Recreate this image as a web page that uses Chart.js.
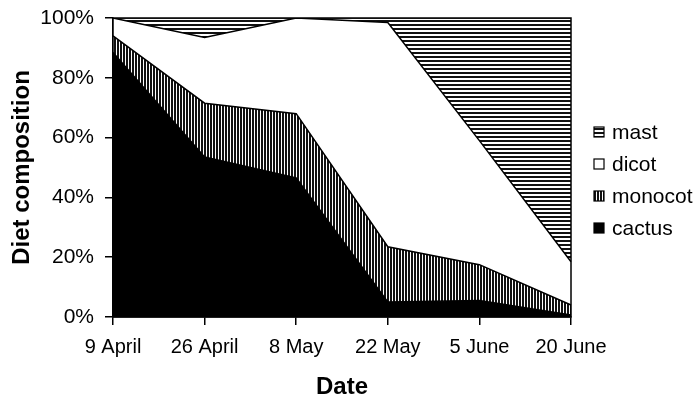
<!DOCTYPE html>
<html>
<head>
<meta charset="utf-8">
<script src="https://cdn.jsdelivr.net/npm/chart.js@4.4.0/dist/chart.umd.min.js"></script>
<style>
  body { margin: 0; background: #fff; }
</style>
</head>
<body>
<canvas id="dietChart" width="696" height="402"></canvas>
<script>
// values, percent of diet
const dates = ['9 April', '26 April', '8 May', '22 May', '5 June', '20 June'];
const cactus = [88.5, 53.5, 46.5, 5, 5.5, 0.7];
const monocot = [5.5, 18, 21.5, 18.5, 12, 3.3];
const dicot = [6, 22, 32, 75, 41.5, 14.5];
const mast = [0, 6.5, 0, 1.5, 41, 81.5];
const yTicks = [0, 20, 40, 60, 80, 100];

const FONT = "'Liberation Sans', Arial, sans-serif";

// striped fills like the old excel patterns
function stripes(vertical, period, thick) {
    const c = document.createElement('canvas');
    c.width = period * 2; c.height = period * 2;
    const ctx = c.getContext('2d');
    ctx.fillStyle = '#fff';
    ctx.fillRect(0, 0, c.width, c.height);
    ctx.fillStyle = '#111';
    for (let i = 0; i < c.width; i += period) {
        if (vertical) ctx.fillRect(i, 0, thick, c.height);
        else ctx.fillRect(0, i, c.width, thick);
    }
    return ctx.createPattern(c, 'repeat');
}

// box round the plot
const frame = {
    id: 'frame',
    afterDatasetsDraw(chart) {
        const a = chart.chartArea, ctx = chart.ctx;
        ctx.save();
        ctx.strokeStyle = '#000';
        ctx.lineWidth = 1.5;
        ctx.strokeRect(a.left, a.top, a.right - a.left, a.bottom - a.top);
        ctx.restore();
    }
};

// legend on the right, top item = last dataset
const sideLegend = {
    id: 'sideLegend',
    afterDraw(chart) {
        const ctx = chart.ctx;
        const sets = chart.data.datasets.slice().reverse();
        ctx.save();
        ctx.font = '21px ' + FONT;
        ctx.textBaseline = 'middle';
        sets.forEach(function (ds, i) {
            const y = 132 + i * 32;
            ctx.fillStyle = ds.backgroundColor;
            ctx.fillRect(594, y - 5, 10, 10);
            ctx.strokeStyle = '#000';
            ctx.lineWidth = 1.2;
            ctx.strokeRect(594, y - 5, 10, 10);
            ctx.fillStyle = '#000';
            ctx.fillText(ds.label, 612, y + 1);
        });
        ctx.restore();
    }
};

function makeSet(label, data, bg, fill) {
    return {
        label: label,
        data: data,
        backgroundColor: bg,
        borderColor: '#000',
        borderWidth: 1.5,
        pointRadius: 0,
        tension: 0,
        fill: fill
    };
}

new Chart(document.getElementById('dietChart'), {
    type: 'line',
    data: {
        labels: dates,
        datasets: [
            makeSet('cactus', cactus, '#000', 'origin'),
            makeSet('monocot', monocot, stripes(true, 3, 2), '-1'),
            makeSet('dicot', dicot, '#fff', '-1'),
            makeSet('mast', mast, stripes(false, 4, 2), '-1')
        ]
    },
    options: {
        responsive: false,
        animation: false,
        devicePixelRatio: 1,
        layout: { padding: { top: 18, right: 125, left: 0, bottom: 0 } },
        plugins: {
            tooltip: { enabled: false },
            legend: { display: false }
        },
        scales: {
            x: {
                offset: false,
                afterFit: function (scale) { scale.height = 85; },
                grid: { drawOnChartArea: false, tickLength: 8, color: '#000', lineWidth: 1.5 },
                border: { color: '#000', width: 1.5 },
                ticks: { color: '#000', maxRotation: 0, autoSkip: false, padding: 10,
                         font: { family: FONT, size: 20 } },
                title: { display: true, text: 'Date', color: '#000', padding: { top: 0, bottom: 0 },
                         font: { family: FONT, size: 24, weight: 'bold' } }
            },
            y: {
                stacked: true,
                min: 0,
                max: 100,
                afterFit: function (scale) {
                    scale.width = 113;
                    scale.paddingTop = 0;
                    scale.paddingBottom = 0;
                },
                afterBuildTicks: function (axis) {
                    axis.ticks = yTicks.map(v => ({ value: v }));
                },
                grid: { drawOnChartArea: false, tickLength: 8, color: '#000', lineWidth: 1.5 },
                border: { color: '#000', width: 1.5 },
                ticks: { color: '#000', padding: 11, font: { family: FONT, size: 21 },
                         callback: v => v + '%' },
                title: { display: true, text: 'Diet composition', color: '#000', padding: { top: 8, bottom: 0 },
                         font: { family: FONT, size: 24, weight: 'bold' } }
            }
        }
    },
    plugins: [frame, sideLegend]
});
</script>
</body>
</html>
